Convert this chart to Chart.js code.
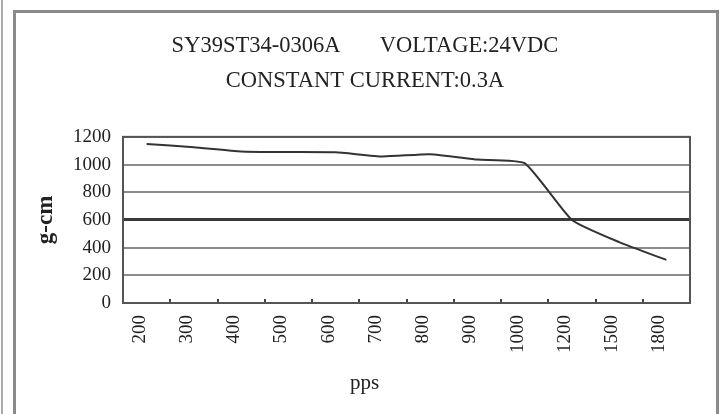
<!DOCTYPE html>
<html>
<head>
<meta charset="utf-8">
<script src="https://cdn.jsdelivr.net/npm/chart.js@4/dist/chart.umd.min.js"></script>
<style>
  html, body { margin: 0; padding: 0; background: #fff; }
  #wrap { position: relative; width: 725px; height: 414px; overflow: hidden; }
  #chart { position: absolute; left: 0; top: 0; }
  #frame { position: absolute; left: 13px; top: 10px; width: 700px; height: 420px;
           border: 3px solid #8a8a8a; border-bottom: none; pointer-events: none; }
  #edge { position: absolute; left: 1px; top: 0; width: 2px; height: 414px; background: #aaa; }
</style>
</head>
<body>
<div id="wrap">
  <canvas id="chart" width="725" height="414"></canvas>
  <div id="frame"></div>
  <div id="edge"></div>
</div>
<script>
// ---------------- DATA ----------------

const titleLines = ["SY39ST34-0306A       VOLTAGE:24VDC", "CONSTANT CURRENT:0.3A"];
const speeds = ["200", "300", "400", "500", "600", "700", "800", "900", "1000", "1200", "1500", "1800"];
const torque = [1148, 1125, 1095, 1090, 1088, 1058, 1075, 1036, 1010, 600, 440, 311];
const yTicks = [0, 200, 400, 600, 800, 1000, 1200];
const xTitle = "pps";
const yTitle = "g-cm";

const serif = "'Liberation Serif', 'DejaVu Serif', serif";

// ---------------- PLOT FRAME ----------------

const framePlugin = {
  id: "plotFrame",
  afterDraw(chart) {
    const a = chart.chartArea;
    const c = chart.ctx;
    c.save();
    c.strokeStyle = "#555";
    c.lineWidth = 2;
    c.strokeRect(a.left, a.top, a.right - a.left, a.bottom - a.top);
    c.restore();
  }
};

// ---------------- CHART ----------------

const ctx = document.getElementById("chart").getContext("2d");

new Chart(ctx, {
  type: "line",
  data: {
    labels: speeds,
    datasets: [
      { data: torque, borderColor: "#333", borderWidth: 2, tension: 0.15, pointRadius: 0 }
    ]
  },
  options: {
    responsive: false,
    animation: false,
    layout: { padding: { left: 40, right: 35, top: 0, bottom: 0 } },
    plugins: {
      legend: { display: false },
      tooltip: { enabled: false },
      title: {
        display: true,
        text: titleLines,
        color: "#222",
        font: { family: serif, size: 22.5, weight: "normal", lineHeight: 1.53 },
        padding: { top: 29, bottom: 39 }
      }
    },
    scales: {
      x: {
        type: "category",
        offset: true,
        grid: {
          display: true,
          offset: true,
          drawOnChartArea: false,
          drawTicks: true,
          tickLength: -4,
          color: "#444",
          lineWidth: 2
        },
        border: { color: "#444", width: 2 },
        ticks: {
          color: "#222",
          font: { family: serif, size: 19 },
          maxRotation: 90,
          minRotation: 90,
          autoSkip: false,
          padding: 16,
          labelOffset: -7
        },
        title: {
          display: true,
          // trailing spaces pull the centred title left, as in the original
          text: xTitle + " ".repeat(16),
          color: "#222",
          font: { family: serif, size: 21 },
          padding: { top: 0, bottom: 18 }
        },
        afterFit(scale) { scale.height = 111; }
      },
      y: {
        min: 0,
        max: 1200,
        afterBuildTicks(scale) { scale.ticks = yTicks.map(v => ({ value: v })); },
        grid: {
          drawTicks: false,
          color: (c) => c.tick && c.tick.value === 600 ? "#3a3a3a" : "#8c8c8c",
          lineWidth: (c) => c.tick && c.tick.value === 600 ? 3 : 2
        },
        border: { color: "#555", width: 2 },
        ticks: {
          color: "#222",
          font: { family: serif, size: 19 },
          padding: 12,
          callback: (v) => String(v)
        },
        title: {
          display: true,
          text: yTitle,
          color: "#222",
          font: { family: serif, size: 23, weight: "bold" },
          padding: { top: -8, bottom: 0 }
        },
        afterFit(scale) { scale.width = 83; }
      }
    }
  },
  plugins: [framePlugin]
});
</script>
</body>
</html>
